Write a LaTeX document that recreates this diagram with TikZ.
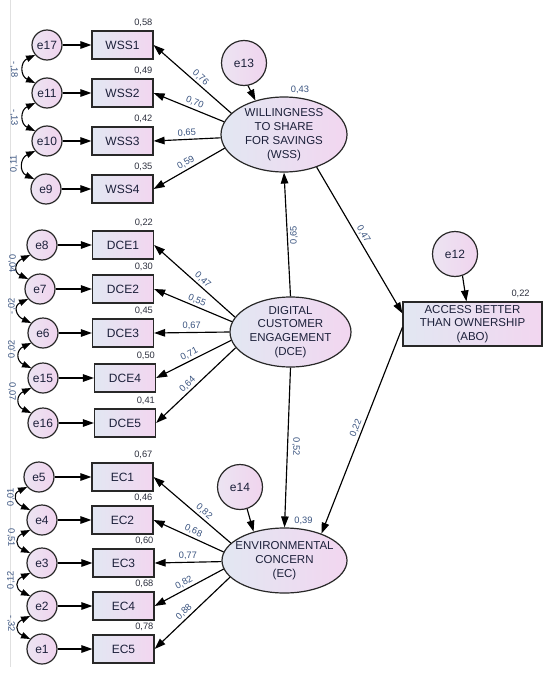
\documentclass[tikz,border=0pt]{standalone}
\usepackage{fontspec}
\setmainfont{Liberation Sans}
\usetikzlibrary{arrows.meta,shapes.geometric,calc}
\definecolor{fillL}{RGB}{226,231,242}
\definecolor{fillR}{RGB}{242,214,240}
\definecolor{eL}{RGB}{236,228,242}
\definecolor{eR}{RGB}{240,212,238}
\definecolor{txtc}{RGB}{28,32,58}
\definecolor{numc}{RGB}{58,84,128}
\definecolor{rsqc}{RGB}{45,48,62}
\definecolor{edgec}{RGB}{40,40,40}
\definecolor{framec}{RGB}{224,224,224}
\begin{document}
\begin{tikzpicture}[x=1pt,y=-1pt,
  obs/.style={draw=edgec, line width=1.2pt, left color=fillL, right color=fillR, minimum width=61pt, minimum height=28pt, inner sep=0pt, font=\fontsize{12}{14}\selectfont, text=txtc},
  err/.style={circle, draw=edgec, line width=1.2pt, left color=eL, right color=eR, minimum size=30pt, inner sep=0pt, font=\fontsize{12}{14}\selectfont, text=txtc},
  bigerr/.style={err, minimum size=45pt},
  lat/.style={ellipse, draw=edgec, line width=1.2pt, left color=fillL, right color=fillR, inner sep=0pt},
  lattext/.style={align=center, font=\fontsize{11.5}{13.8}\selectfont, text=txtc, inner sep=0pt},
  arr/.style={-{Triangle[length=11pt,width=7.5pt]}, line width=1.15pt, black},
  cov/.style={{Triangle[length=9pt,width=6.5pt]}-{Triangle[length=9pt,width=6.5pt]}, line width=1.1pt, black},
  lab/.style={font=\fontsize{9.3}{10}\selectfont, text=numc, inner sep=2pt},
  rsqbox/.style={font=\fontsize{9.3}{10}\selectfont, text=rsqc, inner sep=1pt, anchor=south east},
]
\useasboundingbox (0,0) rectangle (550,680);
\fill[white] (0,0) rectangle (550,680);
\draw[framec, line width=0.8pt] (10,0) -- (10,667);

% ---------- latent variables ----------
\node[lat, minimum width=126pt, minimum height=75pt] (WSS) at (284,134.5) {};
\node[lattext] (WSSt) at (WSS) {WILLINGNESS\\TO SHARE\\FOR SAVINGS\\(WSS)};
\node[lat, minimum width=121pt, minimum height=70pt] (DCE) at (290.5,332) {};
\node[lattext] (DCEt) at (DCE) {DIGITAL\\CUSTOMER\\ENGAGEMENT\\(DCE)};
\node[lat, minimum width=125pt, minimum height=65pt] (EC) at (284.5,560.5) {};
\node[lattext] (ECt) at (EC) {ENVIRONMENTAL\\CONCERN\\(EC)};
\node[obs, minimum width=139pt, minimum height=44pt, align=center, font=\fontsize{11.5}{13.8}\selectfont] (ABO) at (472.5,324) {ACCESS BETTER\\THAN OWNERSHIP\\(ABO)};

% ---------- disturbances ----------
\node[bigerr] (e13) at (244,63) {e13};
\node[bigerr] (e14) at (240,487) {e14};
\node[bigerr] (e12) at (455,254) {e12};

% ---------- indicators ----------
\node[obs] (WSS1) at (122.5,45) {WSS1};
\node[obs] (WSS2) at (122.5,93) {WSS2};
\node[obs] (WSS3) at (122.5,141) {WSS3};
\node[obs] (WSS4) at (122.5,189) {WSS4};
\node[obs] (DCE1) at (123,245) {DCE1};
\node[obs] (DCE2) at (123,289) {DCE2};
\node[obs] (DCE3) at (123,333) {DCE3};
\node[obs] (DCE4) at (125,378) {DCE4};
\node[obs] (DCE5) at (125,423) {DCE5};
\node[obs] (EC1) at (122.5,477) {EC1};
\node[obs] (EC2) at (122.5,520) {EC2};
\node[obs] (EC3) at (123.5,563) {EC3};
\node[obs] (EC4) at (123.5,606) {EC4};
\node[obs] (EC5) at (123.5,649) {EC5};

% ---------- error terms ----------
\node[err] (e17) at (47,45) {e17};
\node[err] (e11) at (47,93) {e11};
\node[err] (e10) at (47,141) {e10};
\node[err] (e9) at (46,189) {e9};
\node[err] (e8) at (42,245) {e8};
\node[err] (e7) at (40,289) {e7};
\node[err] (e6) at (43,333) {e6};
\node[err] (e15) at (43,378) {e15};
\node[err] (e16) at (43,423) {e16};
\node[err] (e5) at (39,477) {e5};
\node[err] (e4) at (42,520) {e4};
\node[err] (e3) at (42,563) {e3};
\node[err] (e2) at (42,606) {e2};
\node[err] (e1) at (42,649) {e1};

% error -> indicator
\foreach \e/\b in {e17/WSS1,e11/WSS2,e10/WSS3,e9/WSS4,e8/DCE1,e7/DCE2,e6/DCE3,e15/DCE4,e16/DCE5,e5/EC1,e4/EC2,e3/EC3,e2/EC4,e1/EC5}
  \draw[arr] (\e) -- (\b.west);

% covariances
\foreach \a/\b in {e17/e11,e11/e10,e10/e9,e8/e7,e7/e6,e6/e15,e15/e16,e5/e4,e4/e3,e3/e2,e2/e1}
  \draw[cov] (\a.220) .. controls +(-15,7) and +(-15,-7) .. (\b.140);

\node[lab, rotate=-90] (c1) at (14,70) {-,18};
\node[lab, rotate=-90] (c2) at (14,118) {-,13};
\node[lab, rotate=90] (c3) at (14,164) {0,11};
\node[lab, rotate=-90] (c4) at (12,264) {0,04};
\node[lab, rotate=90] (c5) at (12,306) {-,02};
\node[lab, rotate=90] (c6) at (12,349) {0,02};
\node[lab, rotate=-90] (c7) at (12,392) {0,07};
\node[lab, rotate=90] (c8) at (11,497) {0,01};
\node[lab, rotate=-90] (c9) at (11,538) {0,51};
\node[lab, rotate=90] (c10) at (11,580) {0,12};
\node[lab, rotate=-90] (c11) at (11,624) {-,32};

% loadings
\draw[arr] (WSS.158) -- node[lab, sloped, above, pos=0.45] {0,76} (WSS1.east);
\draw[arr] (WSS.168) -- node[lab, sloped, above, pos=0.45] {0,70} (WSS2.east);
\draw[arr] (WSS.183) -- node[lab, sloped, above, pos=0.5] {0,65} (WSS3.east);
\draw[arr] (WSS.193) -- node[lab, sloped, above, pos=0.5] {0,59} (WSS4.east);

\draw[arr] (DCE.165) -- node[lab, sloped, above, pos=0.45] {0,47} (DCE1.east);
\draw[arr] (DCE.170) -- node[lab, sloped, above, pos=0.48] {0,55} (DCE2.east);
\draw[arr] (DCE.180) -- node[lab, sloped, above, pos=0.5] {0,67} (DCE3.east);
\draw[arr] (DCE.188) -- node[lab, sloped, above, pos=0.52] {0,71} (DCE4.east);
\draw[arr] (DCE.196) -- node[lab, sloped, above, pos=0.55] {0,64} (DCE5.east);

\draw[arr] (EC.162) -- node[lab, sloped, above, pos=0.4] {0,82} (EC1.east);
\draw[arr] (EC.172) -- node[lab, sloped, above, pos=0.47] {0,68} (EC2.east);
\draw[arr] (EC.181) -- node[lab, sloped, above, pos=0.5] {0,77} (EC3.east);
\draw[arr] (EC.188) -- node[lab, sloped, above, pos=0.53] {0,82} (EC4.east);
\draw[arr] (EC.197) -- node[lab, sloped, above, pos=0.55] {0,88} (EC5.east);

% structural paths
\coordinate (ABOin) at ($(ABO.north west)+(0,12)$);
\coordinate (ABOout) at ($(ABO.north west)+(0,26)$);
\coordinate (ABOtop) at ($(ABO.north west)+(64,0)$);
\draw[arr] (DCE.north) -- (WSS.south);
\node[lab, rotate=90] (p1) at (294,235) {0,65};
\draw[arr] (DCE.south) -- (EC.north);
\node[lab, rotate=-90] (p2) at (296,447) {0,52};
\draw[arr] (WSS.-45) -- node[lab, sloped, above, pos=0.48] {0,47} (ABOin);
\draw[arr] (ABOout) -- node[lab, sloped, above, pos=0.5] {0,22} (EC.36);

\draw[arr] (e13.-80) -- (WSS.130);
\draw[arr] (e14.-72) -- (EC.137);
\draw[arr] (e12.-71) -- (ABOtop);

% squared multiple correlations
\node[lab] (r1) at ($(WSS.north)+(16,-7)$) {0,43};
\node[lab] (r2) at ($(EC.north)+(19,-7)$) {0,39};
\node[lab, text=rsqc] (r3) at ($(ABO.north east)+(-22,-8)$) {0,22};
\node[rsqbox] (q1) at ($(WSS1.north east)+(0,-3)$) {0,58};
\node[rsqbox] (q2) at ($(WSS2.north east)+(0,-3)$) {0,49};
\node[rsqbox] (q3) at ($(WSS3.north east)+(0,-3)$) {0,42};
\node[rsqbox] (q4) at ($(WSS4.north east)+(0,-3)$) {0,35};
\node[rsqbox] (q5) at ($(DCE1.north east)+(0,-3)$) {0,22};
\node[rsqbox] (q6) at ($(DCE2.north east)+(0,-3)$) {0,30};
\node[rsqbox] (q7) at ($(DCE3.north east)+(0,-3)$) {0,45};
\node[rsqbox] (q8) at ($(DCE4.north east)+(0,-3)$) {0,50};
\node[rsqbox] (q9) at ($(DCE5.north east)+(0,-3)$) {0,41};
\node[rsqbox] (q10) at ($(EC1.north east)+(0,-3)$) {0,67};
\node[rsqbox] (q11) at ($(EC2.north east)+(0,-3)$) {0,46};
\node[rsqbox] (q12) at ($(EC3.north east)+(0,-3)$) {0,60};
\node[rsqbox] (q13) at ($(EC4.north east)+(0,-3)$) {0,68};
\node[rsqbox] (q14) at ($(EC5.north east)+(0,-3)$) {0,78};
\end{tikzpicture}
\end{document}
